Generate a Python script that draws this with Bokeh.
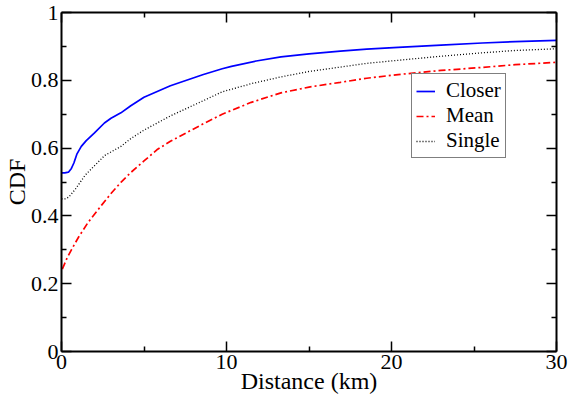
from bokeh.plotting import figure
from bokeh.models import (LinearAxis, FixedTicker, CustomJSTickFormatter, Legend,
                          LegendItem, Range1d)
from bokeh.embed import file_html
from bokeh.resources import INLINE

# ---- data ----
closer_x = [0.0, 0.2, 0.42, 0.6, 0.75, 0.93, 1.2, 1.5, 2.0, 2.6, 3.0, 3.6, 4.2, 5.0,
            6.6, 8.6, 9.74, 10.3, 11.8, 13.3, 15.0, 16.9, 18.5, 20.4, 23.0,
            25.5, 27.5, 30.0]
closer_y = [0.527, 0.527, 0.529, 0.540, 0.556, 0.582, 0.605, 0.622, 0.645, 0.674,
            0.688, 0.704, 0.725, 0.750, 0.784, 0.817, 0.834, 0.841, 0.857, 0.869,
            0.878, 0.886, 0.892, 0.897, 0.904, 0.910, 0.914, 0.918]

mean_x = [0.05, 0.34, 0.6, 1.03, 1.6, 2.42, 3.0, 3.6, 4.2, 5.0, 5.78, 6.6, 8.6, 9.74,
          11.5, 13.3, 15.0, 16.9, 18.5, 20.4, 23.0, 25.5, 27.5, 30.0]
mean_y = [0.243, 0.276, 0.300, 0.337, 0.380, 0.431, 0.466, 0.499, 0.528, 0.562,
          0.595, 0.620, 0.672, 0.700, 0.735, 0.763, 0.780, 0.794, 0.806, 0.817,
          0.829, 0.838, 0.846, 0.853]

single_x = [0.0, 0.2, 0.43, 0.83, 1.43, 2.02, 2.61, 3.6, 4.2, 5.0, 6.6, 8.6, 9.74,
            11.5, 13.3, 15.0, 16.9, 18.5, 20.4, 23.0, 25.5, 27.5, 30.0]
single_y = [0.450, 0.450, 0.455, 0.478, 0.520, 0.549, 0.578, 0.605, 0.628, 0.653,
            0.695, 0.740, 0.766, 0.790, 0.810, 0.826, 0.839, 0.850, 0.859, 0.871,
            0.881, 0.888, 0.893]

series_names = ["Closer", "Mean", "Single"]
x_ticks = [0, 10, 20, 30]
x_minor = [5, 15, 25]
y_ticks = [0, 0.2, 0.4, 0.6, 0.8, 1.0]
y_minor = [0.1, 0.3, 0.5, 0.7, 0.9]

FONT = "Liberation Serif"

p = figure(width=568, height=397, output_backend="svg", toolbar_location=None,
           x_range=Range1d(0, 30), y_range=Range1d(0, 1),
           min_border_left=58, min_border_right=12, min_border_top=12,
           min_border_bottom=46,
           x_axis_label="Distance (km)", y_axis_label="CDF")
p.grid.visible = False
p.outline_line_color = None
p.background_fill_color = "white"
p.border_fill_color = "white"

fmt = CustomJSTickFormatter(code="""
    if (Math.abs(tick) < 1e-9) return '0';
    if (Math.abs(tick - 1) < 1e-9) return '1';
    return (Math.abs(tick - Math.round(tick)) < 1e-9) ? tick.toFixed(0) : tick.toFixed(1);
""")
blank = CustomJSTickFormatter(code="return '';")


def style(ax, ticks, minor, labels=True, label_standoff=-3):
    ax.ticker = FixedTicker(ticks=ticks, minor_ticks=minor)
    ax.major_tick_in = 10
    ax.major_tick_out = 0
    ax.minor_tick_in = 5
    ax.minor_tick_out = 0
    ax.axis_line_width = 2
    ax.axis_line_color = "black"
    ax.major_tick_line_width = 1.5
    ax.minor_tick_line_width = 1.5
    ax.major_tick_line_color = "black"
    ax.minor_tick_line_color = "black"
    if labels:
        ax.formatter = fmt
        ax.major_label_text_font = FONT
        ax.major_label_text_font_size = "22px"
        ax.major_label_text_color = "black"
        ax.major_label_standoff = 3
        ax.axis_label_text_font = FONT
        ax.axis_label_text_font_size = "24px"
        ax.axis_label_text_font_style = "normal"
        ax.axis_label_text_color = "black"
        ax.axis_label_standoff = label_standoff
    else:
        ax.formatter = blank
        ax.major_label_standoff = 0


style(p.xaxis[0], x_ticks, x_minor, label_standoff=-4)
style(p.yaxis[0], y_ticks, y_minor, label_standoff=-2)

top = LinearAxis()
style(top, x_ticks, x_minor, labels=False)
p.add_layout(top, "above")
right = LinearAxis()
style(right, y_ticks, y_minor, labels=False)
p.add_layout(right, "right")

r_closer = p.line(closer_x, closer_y, line_color="#0000ff", line_width=1.7)
r_mean = p.line(mean_x, mean_y, line_color="#ff0000", line_width=1.7,
                line_dash="7 3 2 3")
r_single = p.line(single_x, single_y, line_color="black", line_width=1.3,
                  line_dash="1 2")

legend = Legend(items=[LegendItem(label=series_names[0], renderers=[r_closer]),
                       LegendItem(label=series_names[1], renderers=[r_mean]),
                       LegendItem(label=series_names[2], renderers=[r_single])],
                location=(350, 193))
legend.label_text_font = FONT
legend.label_text_font_size = "21px"
legend.label_text_color = "black"
legend.glyph_width = 19
legend.glyph_height = 16
legend.label_standoff = 11
legend.label_height = 16
legend.spacing = 0
legend.padding = 4
legend.margin = 0
legend.border_line_color = "black"
legend.border_line_width = 1
legend.background_fill_color = "white"
legend.background_fill_alpha = 1
p.add_layout(legend, "center")

open("out.html", "w").write(file_html(p, INLINE))
